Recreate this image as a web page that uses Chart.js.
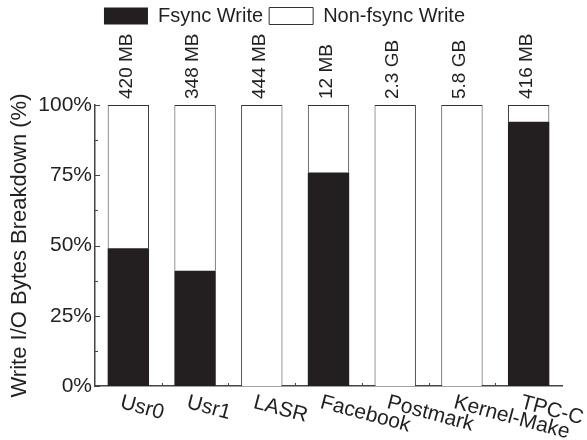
<!DOCTYPE html>
<html>
<head>
<meta charset="utf-8">
<script src="https://cdn.jsdelivr.net/npm/chart.js@4/dist/chart.umd.min.js"></script>
<style>
  html, body { margin: 0; padding: 0; background: #fff; }
  canvas { display: block; }
</style>
</head>
<body>
<canvas id="c" width="587" height="440"></canvas>
<script>
// Share of written bytes per workload (percent)
const workloads = ['Usr0', 'Usr1', 'LASR', 'Facebook', 'Postmark', 'Kernel-Make', 'TPC-C'];
const fsyncShare = [49, 41, 0, 76, 0, 0, 94];
const nonFsyncShare = [51, 59, 100, 24, 100, 100, 6];
// Total bytes written by each workload
const totalWritten = ['420 MB', '348 MB', '444 MB', '12 MB', '2.3 GB', '5.8 GB', '416 MB'];

const INK = '#231f20';
const EDGE = '#333333';
const FONT = '"Liberation Sans", Arial, Helvetica, sans-serif';

// Short inward tick marks on both axes
const axisTicks = {
  id: 'axisTicks',
  afterDatasetsDraw(chart) {
    const { ctx, chartArea: a, scales: { x, y } } = chart;
    ctx.save();
    ctx.strokeStyle = '#444';
    ctx.lineWidth = 1;
    for (let v = 0; v <= 100; v += 12.5) {
      const py = Math.round(y.getPixelForValue(v)) + 0.5;
      const len = (v % 25 === 0) ? 5 : 3;
      ctx.beginPath(); ctx.moveTo(a.left, py); ctx.lineTo(a.left + len, py); ctx.stroke();
    }
    for (let i = 1; i < chart.data.labels.length; i++) {
      const px = Math.round((x.getPixelForTick(i - 1) + x.getPixelForTick(i)) / 2) + 0.5;
      ctx.beginPath(); ctx.moveTo(px, a.bottom); ctx.lineTo(px, a.bottom - 3); ctx.stroke();
    }
    ctx.restore();
  }
};

// Vertical size labels above each stacked bar
const sizeLabels = {
  id: 'sizeLabels',
  afterDatasetsDraw(chart) {
    const ctx = chart.ctx;
    const topBars = chart.getDatasetMeta(1).data;
    ctx.save();
    ctx.font = '19px ' + FONT;
    ctx.fillStyle = INK;
    ctx.textAlign = 'left';
    ctx.textBaseline = 'middle';
    topBars.forEach((bar, i) => {
      ctx.save();
      ctx.translate(bar.x - 2, bar.y - 6);
      ctx.rotate(-Math.PI / 2);
      ctx.fillText(totalWritten[i], 0, 0);
      ctx.restore();
    });
    ctx.restore();
  }
};

// Category names slanted downward to the right, starting at each tick
const slantedLabels = {
  id: 'slantedLabels',
  afterDraw(chart) {
    const { ctx, chartArea: a, scales: { x } } = chart;
    ctx.save();
    ctx.font = '21px ' + FONT;
    ctx.fillStyle = INK;
    ctx.textAlign = 'left';
    ctx.textBaseline = 'top';
    chart.data.labels.forEach((lab, i) => {
      const px = x.getPixelForTick(i);
      ctx.save();
      ctx.translate(px - 5, a.bottom + 6);
      ctx.rotate(15 * Math.PI / 180);
      ctx.fillText(lab, 0, 0);
      ctx.restore();
    });
    ctx.restore();
  }
};

// Reserve room between the legend and the plot for the size labels
const legendSpace = {
  id: 'legendSpace',
  beforeInit(chart) {
    const fit = chart.legend.fit;
    chart.legend.fit = function () {
      fit.call(this);
      this.height = 105;
    };
  }
};

new Chart(document.getElementById('c'), {
  type: 'bar',
  data: {
    labels: workloads,
    datasets: [
      {
        label: 'Fsync Write',
        data: fsyncShare,
        backgroundColor: INK,
        borderColor: INK,
        borderWidth: 0
      },
      {
        label: 'Non-fsync Write',
        data: nonFsyncShare,
        backgroundColor: '#ffffff',
        borderColor: EDGE,
        borderWidth: 1,
        borderSkipped: 'bottom'
      }
    ]
  },
  options: {
    responsive: false,
    devicePixelRatio: 1,
    animation: false,
    layout: { padding: { top: 0, left: 7, right: 25, bottom: 0 } },
    datasets: { bar: { barPercentage: 0.62, categoryPercentage: 1 } },
    plugins: {
      tooltip: { enabled: false },
      legend: {
        position: 'top',
        labels: {
          boxWidth: 44,
          boxHeight: 17,
          padding: 6,
          color: INK,
          font: { family: FONT, size: 20 }
        }
      }
    },
    scales: {
      x: {
        stacked: true,
        grid: { display: false, drawTicks: false },
        border: { display: true, color: '#444', width: 1.5 },
        ticks: { display: false },
        afterFit(scale) { scale.height = 54; }
      },
      y: {
        stacked: true,
        min: 0,
        max: 100,
        grid: { display: false, drawTicks: false },
        border: { display: true, color: '#444', width: 1.5 },
        ticks: {
          stepSize: 25,
          padding: 3,
          color: INK,
          font: { family: FONT, size: 21 },
          callback: (v) => v + '%'
        },
        title: {
          display: true,
          text: 'Write I/O Bytes Breakdown (%)',
          color: INK,
          font: { family: FONT, size: 22 },
          padding: { top: 0, bottom: 0 }
        },
        afterFit(scale) { scale.width = 88; }
      }
    }
  },
  plugins: [legendSpace, axisTicks, sizeLabels, slantedLabels]
});
</script>
</body>
</html>
